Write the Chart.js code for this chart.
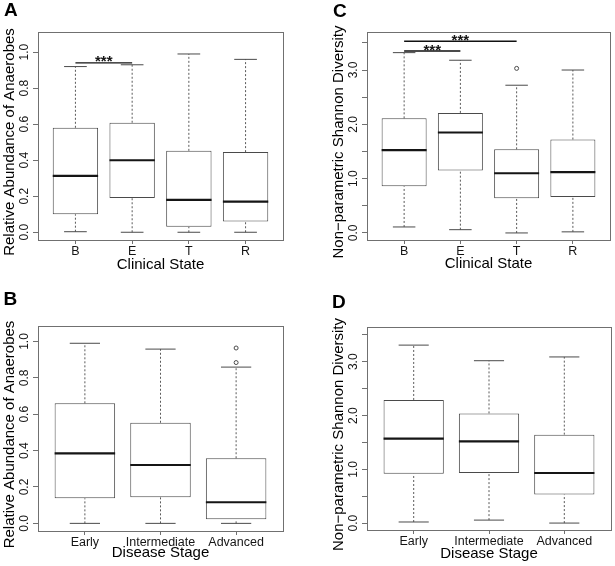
<!DOCTYPE html>
<html><head><meta charset="utf-8">
<script src="https://cdn.jsdelivr.net/npm/chart.js@4.4.1/dist/chart.umd.min.js"></script>
<style>
html,body{margin:0;padding:0;background:#fff;}
#wrap{position:relative;width:615px;height:566px;overflow:hidden;}
canvas{position:absolute;}
</style></head><body>
<div id="wrap">
<canvas id="cA" width="307" height="283" style="left:0;top:0;width:307px;height:283px"></canvas>
<canvas id="cC" width="308" height="283" style="left:307px;top:0;width:308px;height:283px"></canvas>
<canvas id="cB" width="307" height="283" style="left:0;top:283px;width:307px;height:283px"></canvas>
<canvas id="cD" width="308" height="283" style="left:307px;top:283px;width:308px;height:283px"></canvas>
</div>
<script>
// ---------- categories ----------
const clinicalStates = ['B', 'E', 'T', 'R'];
const diseaseStages = ['Early', 'Intermediate', 'Advanced'];

// ---------- Panel A: Relative abundance of anaerobes by clinical state ----------
const anaClinLow  = [0.003, 0.0, 0.0, 0.0];
const anaClinQ1   = [0.10, 0.19, 0.03, 0.06];
const anaClinMed  = [0.313, 0.40, 0.18, 0.17];
const anaClinQ3   = [0.58, 0.608, 0.452, 0.445];
const anaClinHigh = [0.92, 0.93, 0.99, 0.96];
const anaClinOut  = [[], [], [], []];
const anaClinSigFrom = [1];
const anaClinSigTo   = [2];
const anaClinSigY    = [0.94];

// ---------- Panel C: Shannon diversity by clinical state ----------
const shaClinLow  = [0.11, 0.06, 0.0, 0.02];
const shaClinQ1   = [0.86, 1.15, 0.64, 0.66];
const shaClinMed  = [1.525, 1.85, 1.10, 1.12];
const shaClinQ3   = [2.11, 2.21, 1.54, 1.72];
const shaClinHigh = [3.32, 3.18, 2.72, 3.0];
const shaClinOut  = [[], [], [3.03], []];
const shaClinSigFrom = [1, 1];
const shaClinSigTo   = [2, 3];
const shaClinSigY    = [3.35, 3.53];

// ---------- Panel B: Relative abundance of anaerobes by disease stage ----------
const anaStageLow  = [0.0, 0.0, 0.0];
const anaStageQ1   = [0.138, 0.143, 0.022];
const anaStageMed  = [0.385, 0.321, 0.116];
const anaStageQ3   = [0.66, 0.553, 0.358];
const anaStageHigh = [0.99, 0.958, 0.859];
const anaStageOut  = [[], [], [0.964, 0.884]];

// ---------- Panel D: Shannon diversity by disease stage ----------
const shaStageLow  = [0.02, 0.055, 0.0];
const shaStageQ1   = [0.915, 0.93, 0.53];
const shaStageMed  = [1.57, 1.52, 0.93];
const shaStageQ3   = [2.29, 2.04, 1.645];
const shaStageHigh = [3.31, 3.02, 3.09];
const shaStageOut  = [[], [], []];

// ---------- axis tick values ----------
const anaTickStep = 0.2;
const shaTickStep = 0.5;

// ---------- styles ----------
const FONT = "'Liberation Sans', Arial, Helvetica, sans-serif";
const FRAME = '#707070';
const BOX = '#4a4a4a';
const WHISK = '#5a5a5a';
const MED = '#151515';
const TXT = '#151515';

Chart.defaults.font.family = FONT;
Chart.defaults.animation = false;

function segs(list) {
  const out = [];
  list.forEach(s => { out.push({x: s[0], y: s[1]}, {x: s[2], y: s[3]}, {x: s[2], y: null}); });
  return out;
}

const boxPlugin = {
  id: 'boxExtras',
  afterDatasetsDraw(chart, args, opts) {
    const ctx = chart.ctx, a = chart.chartArea;
    const xs = chart.scales.x, ys = chart.scales.y;
    ctx.save();
    // frame
    ctx.strokeStyle = FRAME; ctx.lineWidth = 1;
    ctx.strokeRect(Math.round(a.left) + 0.5, Math.round(a.top) + 0.5,
                   Math.round(a.right) - Math.round(a.left), Math.round(a.bottom) - Math.round(a.top));
    // rotated y tick labels
    ctx.fillStyle = TXT;
    ctx.font = "12px " + FONT;
    ctx.textAlign = 'center'; ctx.textBaseline = 'middle';
    ys.ticks.forEach(t => {
      const lab = opts.fmt(t.value);
      if (!lab) return;
      ctx.save();
      ctx.translate(a.left - 13.5, ys.getPixelForValue(t.value));
      ctx.rotate(-Math.PI / 2);
      ctx.fillText(lab, 0, 0);
      ctx.restore();
    });
    // y axis title
    ctx.save();
    ctx.fillStyle = '#000';
    ctx.font = "15px " + FONT;
    ctx.translate(a.left - 28, (a.top + a.bottom) / 2 + 6);
    ctx.rotate(-Math.PI / 2);
    ctx.fillText(opts.yTitle, 0, 0);
    ctx.restore();
    // significance stars
    ctx.font = "bold 15px " + FONT;
    ctx.textBaseline = 'alphabetic';
    (opts.sigY || []).forEach((y, i) => {
      const px = xs.getPixelForValue((opts.sigFrom[i] + opts.sigTo[i]) / 2);
      const py = ys.getPixelForValue(y);
      ctx.fillText('***', px, py + 3.5);
    });
    // panel letter
    ctx.textAlign = 'left';
    ctx.font = "bold 19px " + FONT;
    ctx.fillStyle = '#000';
    ctx.fillText(opts.letter, opts.letterX, opts.letterY);
    ctx.restore();
  }
};

function buildPanel(id, p) {
  const idx = p.cats.map((c, i) => i + 1);
  const sigSegs = (p.sigY || []).map((y, i) => [p.sigFrom[i], y, p.sigTo[i], y]);
  const outPts = [];
  p.out.forEach((arr, i) => arr.forEach(v => outPts.push({x: i + 1, y: v})));
  const datasets = [
    {type: 'line', data: segs(idx.flatMap((x, i) => [[x, p.low[i], x, p.q1[i]], [x, p.q3[i], x, p.high[i]]])),
     borderColor: WHISK, borderWidth: 1, borderDash: [2, 2], pointRadius: 0, order: 6},
    {type: 'line', data: segs(idx.flatMap((x, i) => [[x - 0.2, p.low[i], x + 0.2, p.low[i]], [x - 0.2, p.high[i], x + 0.2, p.high[i]]])),
     borderColor: BOX, borderWidth: 1, pointRadius: 0, order: 5},
    {type: 'bar', data: idx.map((x, i) => ({x: x, y: [p.q1[i], p.q3[i]]})),
     backgroundColor: '#ffffff', borderColor: BOX, borderWidth: 1, borderSkipped: false,
     categoryPercentage: 0.8, barPercentage: 1, order: 4},
    {type: 'line', data: segs(idx.map((x, i) => [x - 0.4, p.med[i], x + 0.4, p.med[i]])),
     borderColor: MED, borderWidth: 2.1, borderCapStyle: 'butt', pointRadius: 0, order: 2},
    {type: 'scatter', data: outPts, pointRadius: 2, pointBorderWidth: 1, borderColor: BOX,
     backgroundColor: '#fff', pointBackgroundColor: '#fff', pointBorderColor: BOX, order: 1},
    {type: 'line', data: segs(sigSegs), borderColor: '#111', borderWidth: 1.3, pointRadius: 0, order: 1}
  ];
  return new Chart(document.getElementById(id), {
    type: 'bar',
    data: {datasets},
    plugins: [boxPlugin],
    options: {
      responsive: false, devicePixelRatio: 1, animation: false, events: [],
      layout: {padding: p.pad},
      plugins: {
        legend: {display: false}, tooltip: {enabled: false},
        boxExtras: {fmt: p.fmt, sigFrom: p.sigFrom, sigTo: p.sigTo, sigY: p.sigY, yTitle: p.yTitle,
                    letter: p.letter, letterX: p.letterX, letterY: p.letterY}
      },
      scales: {
        x: {
          type: 'linear', min: p.xMin, max: p.xMax, offset: false,
          afterBuildTicks: s => { s.ticks = idx.map(v => ({value: v})); },
          afterFit: s => { s.height = p.xH; },
          ticks: {autoSkip: false, maxRotation: 0, minRotation: 0, padding: 0,
                  color: TXT, font: {size: 12.5, family: FONT},
                  callback: (v, i) => p.cats[i]},
          grid: {display: true, offset: false, drawOnChartArea: false, drawTicks: true, tickLength: 4, color: FRAME, lineWidth: 1},
          border: {display: true, color: FRAME, width: 1},
          title: {display: true, text: p.xTitle, color: '#000', font: {size: 15, family: FONT},
                  padding: {top: 0, bottom: p.xTitlePad}}
        },
        y: {
          type: 'linear', min: p.yMin, max: p.yMax,
          afterFit: s => { s.width = 38; },
          ticks: {display: false, stepSize: p.step, includeBounds: false},
          grid: {display: true, drawOnChartArea: false, drawTicks: true, tickLength: 5, color: FRAME, lineWidth: 1},
          border: {display: true, color: FRAME, width: 1},
          title: {display: false}
        }
      }
    }
  });
}

const fmtAna = v => v.toFixed(1);
const fmtSha = v => (Math.abs(v - Math.round(v)) < 1e-6 ? v.toFixed(1) : '');

buildPanel('cA', {
  cats: clinicalStates, low: anaClinLow, q1: anaClinQ1, med: anaClinMed, q3: anaClinQ3, high: anaClinHigh, out: anaClinOut,
  sigFrom: anaClinSigFrom, sigTo: anaClinSigTo, sigY: anaClinSigY,
  pad: {left: 0, top: 32, right: 24, bottom: 0}, xH: 43, xMin: 0.34, xMax: 4.66, yMin: -0.043, yMax: 1.112,
  step: anaTickStep, fmt: fmtAna, yTitle: 'Relative Abundance of Anaerobes', xTitle: 'Clinical State', xTitlePad: 9,
  letter: 'A', letterX: 4, letterY: 16
});
buildPanel('cC', {
  cats: clinicalStates, low: shaClinLow, q1: shaClinQ1, med: shaClinMed, q3: shaClinQ3, high: shaClinHigh, out: shaClinOut,
  sigFrom: shaClinSigFrom, sigTo: shaClinSigTo, sigY: shaClinSigY,
  pad: {left: 22, top: 32, right: 4, bottom: 0}, xH: 43, xMin: 0.34, xMax: 4.66, yMin: -0.13, yMax: 3.70,
  step: shaTickStep, fmt: fmtSha, yTitle: 'Non\u2212parametric Shannon Diversity', xTitle: 'Clinical State', xTitlePad: 10,
  letter: 'C', letterX: 26, letterY: 17
});
buildPanel('cB', {
  cats: diseaseStages, low: anaStageLow, q1: anaStageQ1, med: anaStageMed, q3: anaStageQ3, high: anaStageHigh, out: anaStageOut,
  pad: {left: 0, top: 43, right: 24, bottom: 0}, xH: 35, xMin: 0.38, xMax: 3.62, yMin: -0.042, yMax: 1.085,
  step: anaTickStep, fmt: fmtAna, yTitle: 'Relative Abundance of Anaerobes', xTitle: 'Disease Stage', xTitlePad: 3.7,
  letter: 'B', letterX: 3.5, letterY: 22
});
buildPanel('cD', {
  cats: diseaseStages, low: shaStageLow, q1: shaStageQ1, med: shaStageMed, q3: shaStageQ3, high: shaStageHigh, out: shaStageOut,
  pad: {left: 22, top: 44, right: 4, bottom: 0}, xH: 36, xMin: 0.38, xMax: 3.62, yMin: -0.129, yMax: 3.647,
  step: shaTickStep, fmt: fmtSha, yTitle: 'Non\u2212parametric Shannon Diversity', xTitle: 'Disease Stage', xTitlePad: 3.5,
  letter: 'D', letterX: 25, letterY: 25
});
</script>
</body></html>
